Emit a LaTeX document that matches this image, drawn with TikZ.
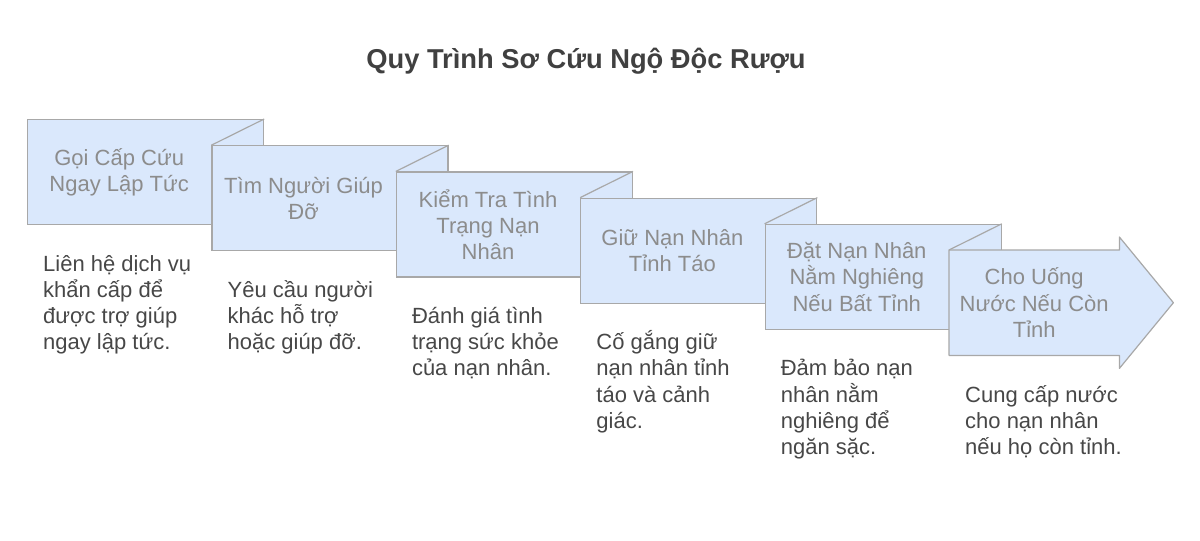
\documentclass[tikz,border=0pt]{standalone}
\usepackage{fontspec}
\setmainfont{Liberation Sans}
\usetikzlibrary{calc}
\definecolor{boxfill}{HTML}{DAE8FC}
\definecolor{boxline}{HTML}{A8A8A8}
\definecolor{labelgray}{HTML}{8C8C8C}
\definecolor{descgray}{HTML}{474747}
\definecolor{titlegray}{HTML}{404040}
\def \fs {\fontsize{22}{26.2}\selectfont}

\tikzset{
  stepbox/.style={draw=boxline, fill=boxfill, line width=1.2pt, minimum width=236pt, minimum height=105pt, inner sep=0pt, anchor=north west},
  steplabel/.style={text=labelgray, font=\fs, align=center, inner sep=0pt},
  stepdesc/.style={text=descgray, font=\fs, align=left, inner sep=0pt, anchor=base west},
  foldline/.style={draw=boxline, line width=1.2pt},
}

\begin{document}
\begin{tikzpicture}[x=1pt, y=-1pt]
        \useasboundingbox (0,0) rectangle (1200,541);

        % Title
        \node[text=titlegray, font=\fontsize{27.3}{31}\selectfont\bfseries, anchor=base] (title) at (586,68) {Quy Trình Sơ Cứu Ngộ Độc Rượu};

        % Step boxes
        \node[stepbox] (s1) at (27,119) {};
        \node[stepbox] (s2) at (211.4,145.2) {};
        \node[stepbox] (s3) at (395.8,171.4) {};
        \node[stepbox] (s4) at (580.2,197.6) {};
        \node[stepbox] (s5) at (764.6,223.8) {};

        % Last step: arrow
        \node[minimum width=170pt, minimum height=105pt, inner sep=0pt, anchor=north west] (s6) at (949,250) {};
        \draw[draw=boxline, fill=boxfill, line width=1.2pt, line join=round]
            (s6.south west) -- (s6.north west) -- (s6.north east) -- ++(0,-13)
            -- ($(s6.east)+(54,0)$) -- ($(s6.south east)+(0,13)$) -- (s6.south east) -- cycle;

        % Folds between the boxes
        \draw[foldline] (s2.north west) -- (s1.north east);
        \draw[foldline] (s3.north west) -- (s2.north east);
        \draw[foldline] (s4.north west) -- (s3.north east);
        \draw[foldline] (s5.north west) -- (s4.north east);
        \draw[foldline] (s6.north west) -- (s5.north east);

        % Box labels
        \node[steplabel] (t1) at ($(s1.west)+(92.2,0)$) {Gọi Cấp Cứu\\Ngay Lập Tức};
        \node[steplabel] (t2) at ($(s2.west)+(92.2,0)$) {Tìm Người Giúp\\Đỡ};
        \node[steplabel] (t3) at ($(s3.west)+(92.2,0)$) {Kiểm Tra Tình\\Trạng Nạn\\Nhân};
        \node[steplabel] (t4) at ($(s4.west)+(92.2,0)$) {Giữ Nạn Nhân\\Tỉnh Táo};
        \node[steplabel] (t5) at ($(s5.west)+(92.2,0)$) {Đặt Nạn Nhân\\Nằm Nghiêng\\Nếu Bất Tỉnh};
        \node[steplabel] (t6) at (s6.center) {Cho Uống\\Nước Nếu Còn\\Tỉnh};

        % Descriptions (anchored at the baseline of the last line)
        \node[stepdesc] (d1) at (43,349.6) {Liên hệ dịch vụ\\khẩn cấp để\\được trợ giúp\\ngay lập tức.};
        \node[stepdesc] (d2) at (227.4,349.6) {Yêu cầu người\\khác hỗ trợ\\hoặc giúp đỡ.};
        \node[stepdesc] (d3) at (411.8,375.8) {Đánh giá tình\\trạng sức khỏe\\của nạn nhân.};
        \node[stepdesc] (d4) at (596.2,428.2) {Cố gắng giữ\\nạn nhân tỉnh\\táo và cảnh\\giác.};
        \node[stepdesc] (d5) at (780.6,454.4) {Đảm bảo nạn\\nhân nằm\\nghiêng để\\ngăn sặc.};
        \node[stepdesc] (d6) at (965,454.4) {Cung cấp nước\\cho nạn nhân\\nếu họ còn tỉnh.};

    \end{tikzpicture}
\end{document}
